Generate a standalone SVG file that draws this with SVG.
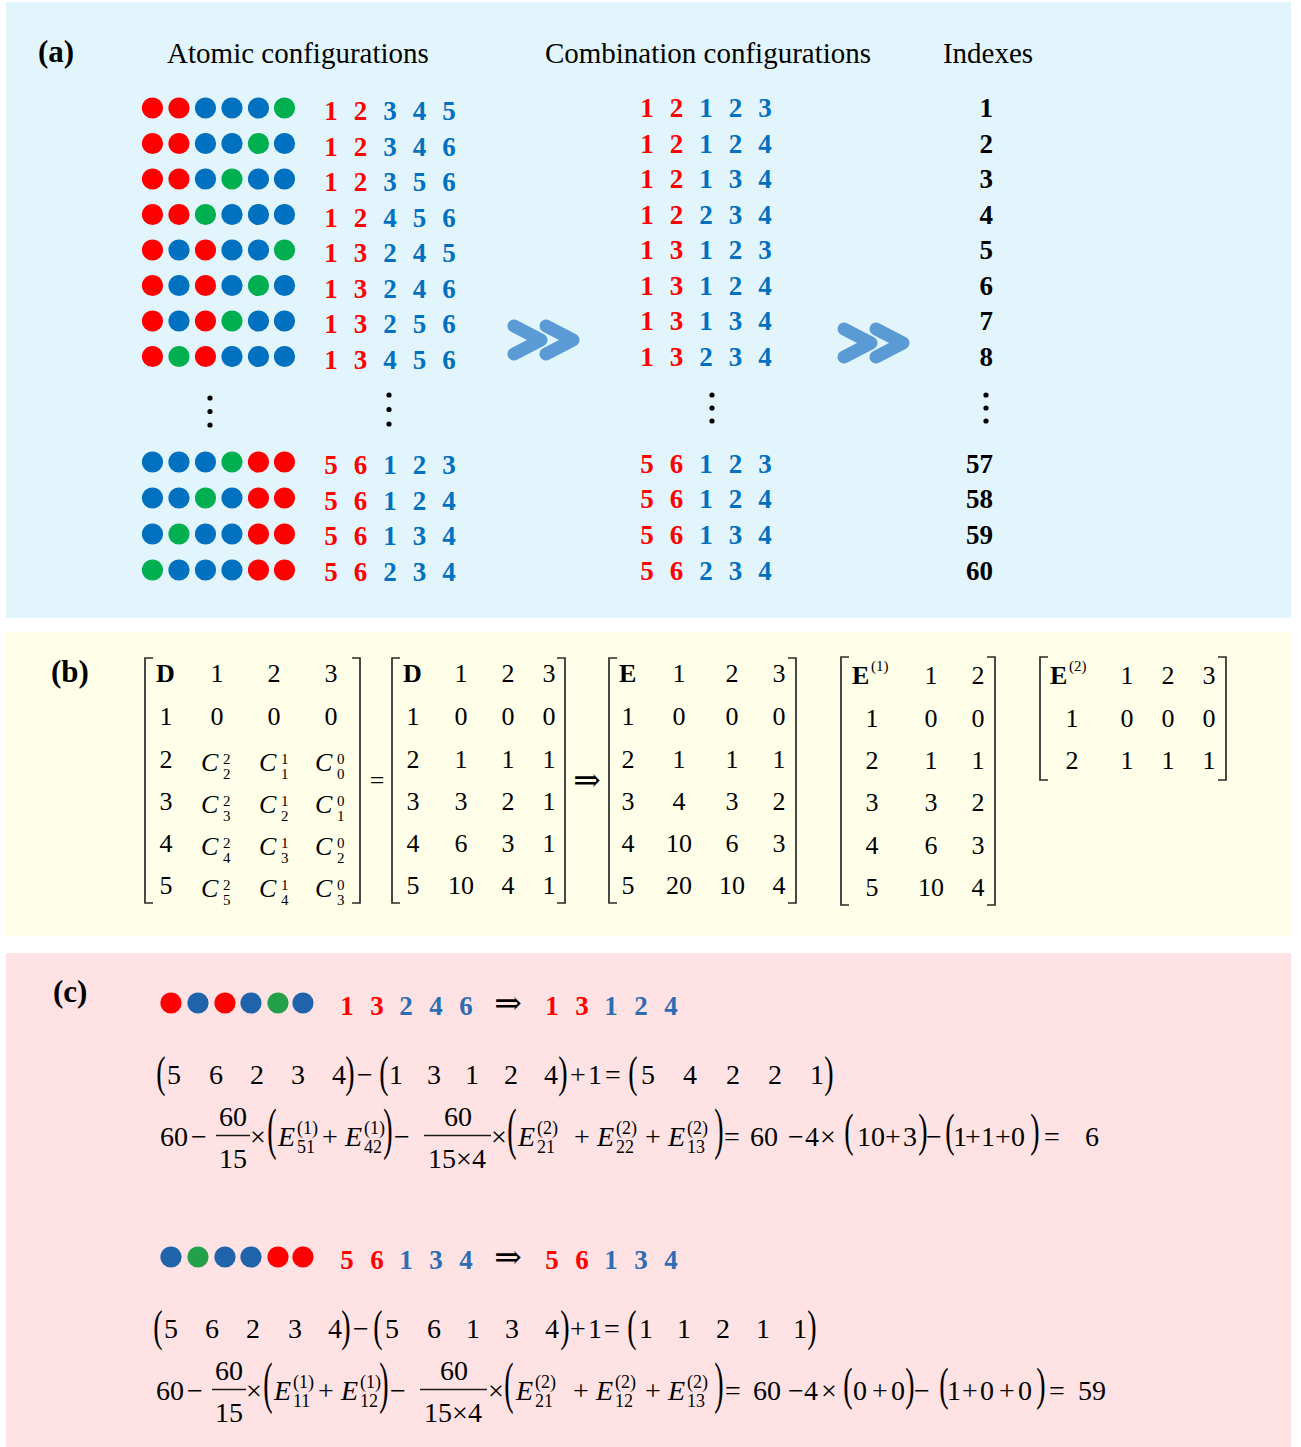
<svg xmlns="http://www.w3.org/2000/svg" width="1301" height="1447" viewBox="0 0 1301 1447">
<style>
text{font-family:"Liberation Serif","Times New Roman","DejaVu Serif",serif;fill:#000}
.hd{font-size:29px;text-anchor:middle}
.lb{font-size:31px;font-weight:bold}
.n{font-size:27px;font-weight:bold;text-anchor:middle}
.ix{font-size:27px;font-weight:bold;text-anchor:end}
.m{font-size:26px;text-anchor:middle}
.mb{font-size:26px;font-weight:bold}
.ci{font-size:26px;font-style:italic}
.ms{font-size:15px}
.e{font-size:28px}
.c{text-anchor:middle}
.ei{font-size:28px;font-style:italic}
.es{font-size:18px}
.ar{font-size:33px;text-anchor:middle}
.R{fill:#FF0000}.B{fill:#0070C0}.G{fill:#00B050}
.B2{fill:#2E6DB4}.DB{fill:#1F63AA}.DG{fill:#22A04A}
.brk{fill:none;stroke:#2a2a2a;stroke-width:1.7}
.bar{stroke:#1a1a1a;stroke-width:1.4}
.chev{fill:none;stroke:#5B9BD5;stroke-width:13;stroke-linecap:round;stroke-linejoin:round}
</style>
<defs>
<circle id="d" r="10.6"/>
</defs>
<rect x="6" y="2" width="1285" height="616" fill="#E3F5FC"/>
<rect x="6" y="632" width="1285" height="304" fill="#FEFEE9"/>
<rect x="6" y="953" width="1285" height="494" fill="#FEE2E4"/>

<g id="panel-a">
<text class="lb" x="38" y="62">(a)</text>
<text class="hd" x="298" y="63">Atomic configurations</text>
<text class="hd" x="708" y="63">Combination configurations</text>
<text class="hd" x="988" y="63">Indexes</text>

<g id="atomic-configurations">
<g transform="translate(0,108)"><use href="#d" x="152.5" class="R"/><use href="#d" x="179" class="R"/><use href="#d" x="205.5" class="B"/><use href="#d" x="232" class="B"/><use href="#d" x="258.5" class="B"/><use href="#d" x="284.5" class="G"/></g>
<g transform="translate(0,143.5)"><use href="#d" x="152.5" class="R"/><use href="#d" x="179" class="R"/><use href="#d" x="205.5" class="B"/><use href="#d" x="232" class="B"/><use href="#d" x="258.5" class="G"/><use href="#d" x="284.5" class="B"/></g>
<g transform="translate(0,179)"><use href="#d" x="152.5" class="R"/><use href="#d" x="179" class="R"/><use href="#d" x="205.5" class="B"/><use href="#d" x="232" class="G"/><use href="#d" x="258.5" class="B"/><use href="#d" x="284.5" class="B"/></g>
<g transform="translate(0,214.5)"><use href="#d" x="152.5" class="R"/><use href="#d" x="179" class="R"/><use href="#d" x="205.5" class="G"/><use href="#d" x="232" class="B"/><use href="#d" x="258.5" class="B"/><use href="#d" x="284.5" class="B"/></g>
<g transform="translate(0,250)"><use href="#d" x="152.5" class="R"/><use href="#d" x="179" class="B"/><use href="#d" x="205.5" class="R"/><use href="#d" x="232" class="B"/><use href="#d" x="258.5" class="B"/><use href="#d" x="284.5" class="G"/></g>
<g transform="translate(0,285.5)"><use href="#d" x="152.5" class="R"/><use href="#d" x="179" class="B"/><use href="#d" x="205.5" class="R"/><use href="#d" x="232" class="B"/><use href="#d" x="258.5" class="G"/><use href="#d" x="284.5" class="B"/></g>
<g transform="translate(0,321)"><use href="#d" x="152.5" class="R"/><use href="#d" x="179" class="B"/><use href="#d" x="205.5" class="R"/><use href="#d" x="232" class="G"/><use href="#d" x="258.5" class="B"/><use href="#d" x="284.5" class="B"/></g>
<g transform="translate(0,356.5)"><use href="#d" x="152.5" class="R"/><use href="#d" x="179" class="G"/><use href="#d" x="205.5" class="R"/><use href="#d" x="232" class="B"/><use href="#d" x="258.5" class="B"/><use href="#d" x="284.5" class="B"/></g>
<g transform="translate(0,462)"><use href="#d" x="152.5" class="B"/><use href="#d" x="179" class="B"/><use href="#d" x="205.5" class="B"/><use href="#d" x="232" class="G"/><use href="#d" x="258.5" class="R"/><use href="#d" x="284.5" class="R"/></g>
<g transform="translate(0,498)"><use href="#d" x="152.5" class="B"/><use href="#d" x="179" class="B"/><use href="#d" x="205.5" class="G"/><use href="#d" x="232" class="B"/><use href="#d" x="258.5" class="R"/><use href="#d" x="284.5" class="R"/></g>
<g transform="translate(0,534)"><use href="#d" x="152.5" class="B"/><use href="#d" x="179" class="G"/><use href="#d" x="205.5" class="B"/><use href="#d" x="232" class="B"/><use href="#d" x="258.5" class="R"/><use href="#d" x="284.5" class="R"/></g>
<g transform="translate(0,570)"><use href="#d" x="152.5" class="G"/><use href="#d" x="179" class="B"/><use href="#d" x="205.5" class="B"/><use href="#d" x="232" class="B"/><use href="#d" x="258.5" class="R"/><use href="#d" x="284.5" class="R"/></g>
<g fill="#000"><circle cx="210" cy="398" r="2.6"/><circle cx="210" cy="411.5" r="2.6"/><circle cx="210" cy="425" r="2.6"/>
<circle cx="389" cy="395" r="2.6"/><circle cx="389" cy="409.5" r="2.6"/><circle cx="389" cy="424" r="2.6"/></g>

<text class="n" y="120"><tspan x="331" class="R">1</tspan><tspan x="360.5" class="R">2</tspan><tspan x="390" class="B">3</tspan><tspan x="419.5" class="B">4</tspan><tspan x="449" class="B">5</tspan></text>
<text class="n" y="155.5"><tspan x="331" class="R">1</tspan><tspan x="360.5" class="R">2</tspan><tspan x="390" class="B">3</tspan><tspan x="419.5" class="B">4</tspan><tspan x="449" class="B">6</tspan></text>
<text class="n" y="191"><tspan x="331" class="R">1</tspan><tspan x="360.5" class="R">2</tspan><tspan x="390" class="B">3</tspan><tspan x="419.5" class="B">5</tspan><tspan x="449" class="B">6</tspan></text>
<text class="n" y="226.5"><tspan x="331" class="R">1</tspan><tspan x="360.5" class="R">2</tspan><tspan x="390" class="B">4</tspan><tspan x="419.5" class="B">5</tspan><tspan x="449" class="B">6</tspan></text>
<text class="n" y="262"><tspan x="331" class="R">1</tspan><tspan x="360.5" class="R">3</tspan><tspan x="390" class="B">2</tspan><tspan x="419.5" class="B">4</tspan><tspan x="449" class="B">5</tspan></text>
<text class="n" y="297.5"><tspan x="331" class="R">1</tspan><tspan x="360.5" class="R">3</tspan><tspan x="390" class="B">2</tspan><tspan x="419.5" class="B">4</tspan><tspan x="449" class="B">6</tspan></text>
<text class="n" y="333"><tspan x="331" class="R">1</tspan><tspan x="360.5" class="R">3</tspan><tspan x="390" class="B">2</tspan><tspan x="419.5" class="B">5</tspan><tspan x="449" class="B">6</tspan></text>
<text class="n" y="368.5"><tspan x="331" class="R">1</tspan><tspan x="360.5" class="R">3</tspan><tspan x="390" class="B">4</tspan><tspan x="419.5" class="B">5</tspan><tspan x="449" class="B">6</tspan></text>
<text class="n" y="474"><tspan x="331" class="R">5</tspan><tspan x="360.5" class="R">6</tspan><tspan x="390" class="B">1</tspan><tspan x="419.5" class="B">2</tspan><tspan x="449" class="B">3</tspan></text>
<text class="n" y="509.5"><tspan x="331" class="R">5</tspan><tspan x="360.5" class="R">6</tspan><tspan x="390" class="B">1</tspan><tspan x="419.5" class="B">2</tspan><tspan x="449" class="B">4</tspan></text>
<text class="n" y="545"><tspan x="331" class="R">5</tspan><tspan x="360.5" class="R">6</tspan><tspan x="390" class="B">1</tspan><tspan x="419.5" class="B">3</tspan><tspan x="449" class="B">4</tspan></text>
<text class="n" y="580.5"><tspan x="331" class="R">5</tspan><tspan x="360.5" class="R">6</tspan><tspan x="390" class="B">2</tspan><tspan x="419.5" class="B">3</tspan><tspan x="449" class="B">4</tspan></text>
</g>

<g id="combination-configurations">
<text class="n" y="117"><tspan x="647" class="R">1</tspan><tspan x="676.5" class="R">2</tspan><tspan x="706" class="B">1</tspan><tspan x="735.5" class="B">2</tspan><tspan x="765" class="B">3</tspan></text>
<text class="n" y="152.5"><tspan x="647" class="R">1</tspan><tspan x="676.5" class="R">2</tspan><tspan x="706" class="B">1</tspan><tspan x="735.5" class="B">2</tspan><tspan x="765" class="B">4</tspan></text>
<text class="n" y="188"><tspan x="647" class="R">1</tspan><tspan x="676.5" class="R">2</tspan><tspan x="706" class="B">1</tspan><tspan x="735.5" class="B">3</tspan><tspan x="765" class="B">4</tspan></text>
<text class="n" y="223.5"><tspan x="647" class="R">1</tspan><tspan x="676.5" class="R">2</tspan><tspan x="706" class="B">2</tspan><tspan x="735.5" class="B">3</tspan><tspan x="765" class="B">4</tspan></text>
<text class="n" y="259"><tspan x="647" class="R">1</tspan><tspan x="676.5" class="R">3</tspan><tspan x="706" class="B">1</tspan><tspan x="735.5" class="B">2</tspan><tspan x="765" class="B">3</tspan></text>
<text class="n" y="294.5"><tspan x="647" class="R">1</tspan><tspan x="676.5" class="R">3</tspan><tspan x="706" class="B">1</tspan><tspan x="735.5" class="B">2</tspan><tspan x="765" class="B">4</tspan></text>
<text class="n" y="330"><tspan x="647" class="R">1</tspan><tspan x="676.5" class="R">3</tspan><tspan x="706" class="B">1</tspan><tspan x="735.5" class="B">3</tspan><tspan x="765" class="B">4</tspan></text>
<text class="n" y="365.5"><tspan x="647" class="R">1</tspan><tspan x="676.5" class="R">3</tspan><tspan x="706" class="B">2</tspan><tspan x="735.5" class="B">3</tspan><tspan x="765" class="B">4</tspan></text>
<text class="n" y="472.5"><tspan x="647" class="R">5</tspan><tspan x="676.5" class="R">6</tspan><tspan x="706" class="B">1</tspan><tspan x="735.5" class="B">2</tspan><tspan x="765" class="B">3</tspan></text>
<text class="n" y="508"><tspan x="647" class="R">5</tspan><tspan x="676.5" class="R">6</tspan><tspan x="706" class="B">1</tspan><tspan x="735.5" class="B">2</tspan><tspan x="765" class="B">4</tspan></text>
<text class="n" y="544"><tspan x="647" class="R">5</tspan><tspan x="676.5" class="R">6</tspan><tspan x="706" class="B">1</tspan><tspan x="735.5" class="B">3</tspan><tspan x="765" class="B">4</tspan></text>
<text class="n" y="579.5"><tspan x="647" class="R">5</tspan><tspan x="676.5" class="R">6</tspan><tspan x="706" class="B">2</tspan><tspan x="735.5" class="B">3</tspan><tspan x="765" class="B">4</tspan></text>
<g fill="#000"><circle cx="712" cy="395" r="2.6"/><circle cx="712" cy="408" r="2.6"/><circle cx="712" cy="421" r="2.6"/></g>
</g>

<g id="indexes">
<text class="ix" x="993" y="117">1</text>
<text class="ix" x="993" y="152.5">2</text>
<text class="ix" x="993" y="188">3</text>
<text class="ix" x="993" y="223.5">4</text>
<text class="ix" x="993" y="259">5</text>
<text class="ix" x="993" y="294.5">6</text>
<text class="ix" x="993" y="330">7</text>
<text class="ix" x="993" y="365.5">8</text>
<text class="ix" x="993" y="472.5">57</text>
<text class="ix" x="993" y="508">58</text>
<text class="ix" x="993" y="544">59</text>
<text class="ix" x="993" y="579.5">60</text>
<g fill="#000"><circle cx="986" cy="395" r="2.6"/><circle cx="986" cy="408" r="2.6"/><circle cx="986" cy="421" r="2.6"/></g>
</g>
</g>

<g id="connectors">
<polyline class="chev" points="514,326 541,340 514,354"/>
<polyline class="chev" points="546,326 573,340 546,354"/>
<polyline class="chev" points="844,329 871,343 844,357"/>
<polyline class="chev" points="876,329 903,343 876,357"/>
</g>

<g id="panel-b">
<text class="lb" x="51" y="682">(b)</text>
<g id="matrix-D-C">
<polyline class="brk" points="153,658 145,658 145,903 153,903"/>
<polyline class="brk" points="352,658 360,658 360,903 352,903"/>
<text class="mb" x="156" y="682">D</text>
<text class="m" y="682"><tspan x="217">1</tspan><tspan x="274">2</tspan><tspan x="331">3</tspan></text>
<text class="m" y="725"><tspan x="166">1</tspan><tspan x="217">0</tspan><tspan x="274">0</tspan><tspan x="331">0</tspan></text>
<text class="m" y="768"><tspan x="166">2</tspan></text>
<text class="m" y="810"><tspan x="166">3</tspan></text>
<text class="m" y="852"><tspan x="166">4</tspan></text>
<text class="m" y="894"><tspan x="166">5</tspan></text>
<g>
<text class="ci" y="771"><tspan x="201">C</tspan><tspan x="259">C</tspan><tspan x="315">C</tspan></text>
<text class="ms" y="764"><tspan x="223">2</tspan><tspan x="281">1</tspan><tspan x="337">0</tspan></text>
<text class="ms" y="779"><tspan x="223">2</tspan><tspan x="281">1</tspan><tspan x="337">0</tspan></text>
<text class="ci" y="813"><tspan x="201">C</tspan><tspan x="259">C</tspan><tspan x="315">C</tspan></text>
<text class="ms" y="806"><tspan x="223">2</tspan><tspan x="281">1</tspan><tspan x="337">0</tspan></text>
<text class="ms" y="821"><tspan x="223">3</tspan><tspan x="281">2</tspan><tspan x="337">1</tspan></text>
<text class="ci" y="855"><tspan x="201">C</tspan><tspan x="259">C</tspan><tspan x="315">C</tspan></text>
<text class="ms" y="848"><tspan x="223">2</tspan><tspan x="281">1</tspan><tspan x="337">0</tspan></text>
<text class="ms" y="863"><tspan x="223">4</tspan><tspan x="281">3</tspan><tspan x="337">2</tspan></text>
<text class="ci" y="897"><tspan x="201">C</tspan><tspan x="259">C</tspan><tspan x="315">C</tspan></text>
<text class="ms" y="890"><tspan x="223">2</tspan><tspan x="281">1</tspan><tspan x="337">0</tspan></text>
<text class="ms" y="905"><tspan x="223">5</tspan><tspan x="281">4</tspan><tspan x="337">3</tspan></text>
</g>
</g>
<text class="m" x="377" y="789">=</text>
<g id="matrix-D">
<polyline class="brk" points="400,658 392,658 392,903 400,903"/>
<polyline class="brk" points="557,658 565,658 565,903 557,903"/>
<text class="mb" x="403" y="682">D</text>
<text class="m" y="682"><tspan x="461">1</tspan><tspan x="508">2</tspan><tspan x="549">3</tspan></text>
<text class="m" y="725"><tspan x="413">1</tspan><tspan x="461">0</tspan><tspan x="508">0</tspan><tspan x="549">0</tspan></text>
<text class="m" y="768"><tspan x="413">2</tspan><tspan x="461">1</tspan><tspan x="508">1</tspan><tspan x="549">1</tspan></text>
<text class="m" y="810"><tspan x="413">3</tspan><tspan x="461">3</tspan><tspan x="508">2</tspan><tspan x="549">1</tspan></text>
<text class="m" y="852"><tspan x="413">4</tspan><tspan x="461">6</tspan><tspan x="508">3</tspan><tspan x="549">1</tspan></text>
<text class="m" y="894"><tspan x="413">5</tspan><tspan x="461">10</tspan><tspan x="508">4</tspan><tspan x="549">1</tspan></text>
</g>
<text class="ar" x="587" y="791">⇒</text>
<g id="matrix-E">
<polyline class="brk" points="617,658 609,658 609,903 617,903"/>
<polyline class="brk" points="788,658 796,658 796,903 788,903"/>
<text class="mb" x="619" y="682">E</text>
<text class="m" y="682"><tspan x="679">1</tspan><tspan x="732">2</tspan><tspan x="779">3</tspan></text>
<text class="m" y="725"><tspan x="628">1</tspan><tspan x="679">0</tspan><tspan x="732">0</tspan><tspan x="779">0</tspan></text>
<text class="m" y="768"><tspan x="628">2</tspan><tspan x="679">1</tspan><tspan x="732">1</tspan><tspan x="779">1</tspan></text>
<text class="m" y="810"><tspan x="628">3</tspan><tspan x="679">4</tspan><tspan x="732">3</tspan><tspan x="779">2</tspan></text>
<text class="m" y="852"><tspan x="628">4</tspan><tspan x="679">10</tspan><tspan x="732">6</tspan><tspan x="779">3</tspan></text>
<text class="m" y="894"><tspan x="628">5</tspan><tspan x="679">20</tspan><tspan x="732">10</tspan><tspan x="779">4</tspan></text>
</g>
<g id="matrix-E1">
<polyline class="brk" points="849,657 841,657 841,905 849,905"/>
<polyline class="brk" points="987,657 995,657 995,905 987,905"/>
<text class="mb" x="852" y="684">E</text>
<text class="ms" x="871" y="671">(1)</text>
<text class="m" y="684"><tspan x="931">1</tspan><tspan x="978">2</tspan></text>
<text class="m" y="727"><tspan x="872">1</tspan><tspan x="931">0</tspan><tspan x="978">0</tspan></text>
<text class="m" y="769"><tspan x="872">2</tspan><tspan x="931">1</tspan><tspan x="978">1</tspan></text>
<text class="m" y="811"><tspan x="872">3</tspan><tspan x="931">3</tspan><tspan x="978">2</tspan></text>
<text class="m" y="854"><tspan x="872">4</tspan><tspan x="931">6</tspan><tspan x="978">3</tspan></text>
<text class="m" y="896"><tspan x="872">5</tspan><tspan x="931">10</tspan><tspan x="978">4</tspan></text>
</g>
<g id="matrix-E2">
<polyline class="brk" points="1048,657 1040,657 1040,780 1048,780"/>
<polyline class="brk" points="1218,657 1226,657 1226,780 1218,780"/>
<text class="mb" x="1050" y="684">E</text>
<text class="ms" x="1069" y="671">(2)</text>
<text class="m" y="684"><tspan x="1127">1</tspan><tspan x="1168">2</tspan><tspan x="1209">3</tspan></text>
<text class="m" y="727"><tspan x="1072">1</tspan><tspan x="1127">0</tspan><tspan x="1168">0</tspan><tspan x="1209">0</tspan></text>
<text class="m" y="769"><tspan x="1072">2</tspan><tspan x="1127">1</tspan><tspan x="1168">1</tspan><tspan x="1209">1</tspan></text>
</g>
</g>

<g id="panel-c">
<text class="lb" x="53" y="1002">(c)</text>
<g id="example-1">
<use href="#d" x="171" y="1003" class="R"/><use href="#d" x="198" y="1003" class="DB"/><use href="#d" x="225" y="1003" class="R"/><use href="#d" x="251" y="1003" class="DB"/><use href="#d" x="278" y="1003" class="DG"/><use href="#d" x="303" y="1003" class="DB"/>
<text class="n" y="1015"><tspan x="347" class="R">1</tspan><tspan x="377" class="R">3</tspan><tspan x="406" class="B2">2</tspan><tspan x="436" class="B2">4</tspan><tspan x="466" class="B2">6</tspan></text>
<text class="ar" x="508" y="1014">⇒</text>
<text class="n" y="1015"><tspan x="552" class="R">1</tspan><tspan x="582" class="R">3</tspan><tspan x="611" class="B2">1</tspan><tspan x="641" class="B2">2</tspan><tspan x="671" class="B2">4</tspan></text>

<text class="e c" y="1084"><tspan x="174">5</tspan><tspan x="216">6</tspan><tspan x="257">2</tspan><tspan x="298">3</tspan><tspan x="339">4</tspan><tspan x="365">−</tspan><tspan x="396">1</tspan><tspan x="434">3</tspan><tspan x="472">1</tspan><tspan x="511">2</tspan><tspan x="551">4</tspan><tspan x="578">+</tspan><tspan x="595">1</tspan><tspan x="613">=</tspan><tspan x="648">5</tspan><tspan x="690">4</tspan><tspan x="733">2</tspan><tspan x="775">2</tspan><tspan x="817">1</tspan></text>
<text class="e c" transform="translate(161,1087) scale(1,1.55)">(</text>
<text class="e c" transform="translate(350,1087) scale(1,1.55)">)</text>
<text class="e c" transform="translate(384,1087) scale(1,1.55)">(</text>
<text class="e c" transform="translate(563,1087) scale(1,1.55)">)</text>
<text class="e c" transform="translate(633,1087) scale(1,1.55)">(</text>
<text class="e c" transform="translate(829,1087) scale(1,1.55)">)</text>

<text class="e" x="160" y="1146">60</text>
<text class="e" x="191" y="1146">−</text>
<text class="e c" x="233" y="1126">60</text>
<line class="bar" x1="216" y1="1135.5" x2="250" y2="1135.5"/>
<text class="e c" x="233" y="1168">15</text>
<text class="e" x="250" y="1146">×</text>
<text class="e c" transform="translate(272,1148) scale(1,2)">(</text>
<text class="ei" x="278" y="1146">E</text><text class="es" x="297" y="1134">(1)</text><text class="es" x="297" y="1153">51</text>
<text class="e" x="322" y="1146">+</text>
<text class="ei" x="345" y="1146">E</text><text class="es" x="364" y="1134">(1)</text><text class="es" x="364" y="1153">42</text>
<text class="e c" transform="translate(388,1148) scale(1,2)">)</text>
<text class="e" x="394" y="1146">−</text>
<text class="e c" x="458" y="1126">60</text>
<line class="bar" x1="424" y1="1135.5" x2="491" y2="1135.5"/>
<text class="e c" x="457" y="1168">15×4</text>
<text class="e" x="491" y="1146">×</text>
<text class="e c" transform="translate(512,1148) scale(1,2)">(</text>
<text class="ei" x="518" y="1146">E</text><text class="es" x="537" y="1134">(2)</text><text class="es" x="537" y="1153">21</text>
<text class="e" x="574" y="1146">+</text>
<text class="ei" x="597" y="1146">E</text><text class="es" x="616" y="1134">(2)</text><text class="es" x="616" y="1153">22</text>
<text class="e" x="645" y="1146">+</text>
<text class="ei" x="668" y="1146">E</text><text class="es" x="687" y="1134">(2)</text><text class="es" x="687" y="1153">13</text>
<text class="e c" transform="translate(719,1148) scale(1,2)">)</text>
<text class="e c" y="1146"><tspan x="732">=</tspan><tspan x="764">60</tspan><tspan x="796">−</tspan><tspan x="812">4</tspan><tspan x="828">×</tspan><tspan x="871">10</tspan><tspan x="893">+</tspan><tspan x="910">3</tspan><tspan x="934">−</tspan><tspan x="960">1</tspan><tspan x="973">+</tspan><tspan x="988">1</tspan><tspan x="1003">+</tspan><tspan x="1018">0</tspan><tspan x="1052">=</tspan><tspan x="1092">6</tspan></text>
<text class="e c" transform="translate(849,1146) scale(1,1.65)">(</text>
<text class="e c" transform="translate(923,1146) scale(1,1.65)">)</text>
<text class="e c" transform="translate(950,1146) scale(1,1.65)">(</text>
<text class="e c" transform="translate(1035,1146) scale(1,1.65)">)</text>
</g>

<g id="example-2">
<use href="#d" x="171" y="1257" class="DB"/><use href="#d" x="198" y="1257" class="DG"/><use href="#d" x="225" y="1257" class="DB"/><use href="#d" x="251" y="1257" class="DB"/><use href="#d" x="278" y="1257" class="R"/><use href="#d" x="303" y="1257" class="R"/>
<text class="n" y="1269"><tspan x="347" class="R">5</tspan><tspan x="377" class="R">6</tspan><tspan x="406" class="B2">1</tspan><tspan x="436" class="B2">3</tspan><tspan x="466" class="B2">4</tspan></text>
<text class="ar" x="508" y="1268">⇒</text>
<text class="n" y="1269"><tspan x="552" class="R">5</tspan><tspan x="582" class="R">6</tspan><tspan x="611" class="B2">1</tspan><tspan x="641" class="B2">3</tspan><tspan x="671" class="B2">4</tspan></text>

<text class="e c" y="1338"><tspan x="171">5</tspan><tspan x="212">6</tspan><tspan x="253">2</tspan><tspan x="295">3</tspan><tspan x="335">4</tspan><tspan x="361">−</tspan><tspan x="392">5</tspan><tspan x="434">6</tspan><tspan x="473">1</tspan><tspan x="512">3</tspan><tspan x="552">4</tspan><tspan x="578">+</tspan><tspan x="595">1</tspan><tspan x="612">=</tspan><tspan x="646">1</tspan><tspan x="684">1</tspan><tspan x="723">2</tspan><tspan x="763">1</tspan><tspan x="800">1</tspan></text>
<text class="e c" transform="translate(158,1341) scale(1,1.55)">(</text>
<text class="e c" transform="translate(346,1341) scale(1,1.55)">)</text>
<text class="e c" transform="translate(378,1341) scale(1,1.55)">(</text>
<text class="e c" transform="translate(565,1341) scale(1,1.55)">)</text>
<text class="e c" transform="translate(632,1341) scale(1,1.55)">(</text>
<text class="e c" transform="translate(812,1341) scale(1,1.55)">)</text>

<text class="e" x="156" y="1400">60</text>
<text class="e" x="187" y="1400">−</text>
<text class="e c" x="229" y="1380">60</text>
<line class="bar" x1="212" y1="1389.5" x2="246" y2="1389.5"/>
<text class="e c" x="229" y="1422">15</text>
<text class="e" x="246" y="1400">×</text>
<text class="e c" transform="translate(268,1402) scale(1,2)">(</text>
<text class="ei" x="274" y="1400">E</text><text class="es" x="293" y="1388">(1)</text><text class="es" x="293" y="1407">11</text>
<text class="e" x="318" y="1400">+</text>
<text class="ei" x="341" y="1400">E</text><text class="es" x="360" y="1388">(1)</text><text class="es" x="360" y="1407">12</text>
<text class="e c" transform="translate(384,1402) scale(1,2)">)</text>
<text class="e" x="390" y="1400">−</text>
<text class="e c" x="454" y="1380">60</text>
<line class="bar" x1="420" y1="1389.5" x2="487" y2="1389.5"/>
<text class="e c" x="453" y="1422">15×4</text>
<text class="e" x="488" y="1400">×</text>
<text class="e c" transform="translate(509,1402) scale(1,2)">(</text>
<text class="ei" x="516" y="1400">E</text><text class="es" x="535" y="1388">(2)</text><text class="es" x="535" y="1407">21</text>
<text class="e" x="573" y="1400">+</text>
<text class="ei" x="596" y="1400">E</text><text class="es" x="615" y="1388">(2)</text><text class="es" x="615" y="1407">12</text>
<text class="e" x="645" y="1400">+</text>
<text class="ei" x="668" y="1400">E</text><text class="es" x="687" y="1388">(2)</text><text class="es" x="687" y="1407">13</text>
<text class="e c" transform="translate(719,1402) scale(1,2)">)</text>
<text class="e c" y="1400"><tspan x="733">=</tspan><tspan x="767">60</tspan><tspan x="796">−</tspan><tspan x="811">4</tspan><tspan x="829">×</tspan><tspan x="860">0</tspan><tspan x="880">+</tspan><tspan x="898">0</tspan><tspan x="922">−</tspan><tspan x="954">1</tspan><tspan x="970">+</tspan><tspan x="987">0</tspan><tspan x="1007">+</tspan><tspan x="1025">0</tspan><tspan x="1057">=</tspan><tspan x="1092">59</tspan></text>
<text class="e c" transform="translate(848,1400) scale(1,1.65)">(</text>
<text class="e c" transform="translate(910,1400) scale(1,1.65)">)</text>
<text class="e c" transform="translate(944,1400) scale(1,1.65)">(</text>
<text class="e c" transform="translate(1041,1400) scale(1,1.65)">)</text>
</g>
</g>
</svg>
